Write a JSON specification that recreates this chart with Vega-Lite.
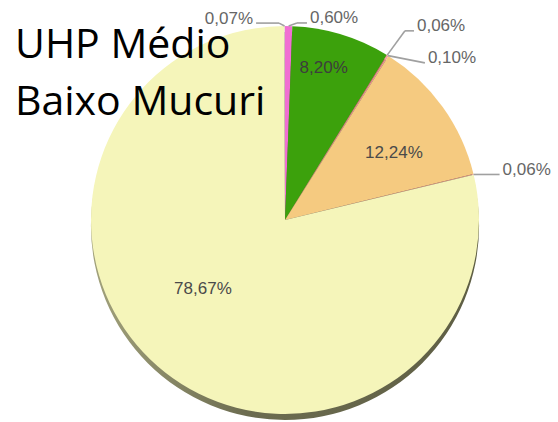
{
  "$schema": "https://vega.github.io/schema/vega-lite/v6.json",
  "width": 546,
  "height": 404,
  "autosize": "none",
  "padding": {"left": 12, "top": 18, "right": 0, "bottom": 0},
  "background": "white",
  "config": {"view": {"stroke": null}},
  "title": {
    "text": ["UHP Médio", "Baixo Mucuri"],
    "orient": "top",
    "anchor": "start",
    "frame": "group",
    "offset": 0,
    "dx": 3,
    "dy": 147,
    "baseline": "alphabetic",
    "font": "Open Sans",
    "fontSize": 41,
    "fontWeight": "normal",
    "lineHeight": 57,
    "color": "#000000"
  },
  "data": {
    "values": [
      {"i": 1, "k": "A", "value": 0.60, "label": "0,60%"},
      {"i": 2, "k": "B", "value": 8.20, "label": "8,20%"},
      {"i": 3, "k": "C", "value": 0.06, "label": "0,06%"},
      {"i": 4, "k": "D", "value": 0.10, "label": "0,10%"},
      {"i": 5, "k": "E", "value": 12.24, "label": "12,24%"},
      {"i": 6, "k": "F", "value": 0.06, "label": "0,06%"},
      {"i": 7, "k": "G", "value": 78.67, "label": "78,67%"},
      {"i": 8, "k": "H", "value": 0.07, "label": "0,07%"}
    ]
  },
  "transform": [
    {"window": [{"op": "sum", "field": "value", "as": "e"}], "sort": [{"field": "i", "order": "ascending"}], "frame": [null, 0]},
    {"calculate": "datum.e - datum.value", "as": "s"},
    {"calculate": "(datum.s + datum.e) / 2", "as": "m"}
  ],
  "layer": [
    {
      "transform": [{"aggregate": [{"op": "sum", "field": "value", "as": "tot"}]}],
      "mark": {
        "type": "arc",
        "radius": 194,
        "yOffset": 6,
        "color": {
          "gradient": "linear", "x1": 0, "y1": 0, "x2": 1, "y2": 0,
          "stops": [
            {"offset": 0, "color": "#a2a27c"},
            {"offset": 0.4, "color": "#6c6c50"},
            {"offset": 1, "color": "#5e5e44"}
          ]
        }
      },
      "encoding": {
        "theta": {"field": "tot", "type": "quantitative", "scale": {"domain": [0, 100]}}
      }
    },
    {
      "mark": {"type": "arc", "radius": 194},
      "encoding": {
        "theta": {"field": "s", "type": "quantitative", "scale": {"domain": [0, 100]}},
        "theta2": {"field": "e"},
        "color": {
          "field": "k", "type": "nominal", "legend": null,
          "scale": {
            "domain": ["A", "B", "C", "D", "E", "F", "G", "H"],
            "range": ["#f06fd2", "#3ca10c", "#e87070", "#f09a9a", "#f5ca80", "#e8928a", "#f5f5ba", "#e8d0d0"]
          }
        }
      }
    },
    {
      "transform": [
        {"filter": "datum.value < 1"},
        {"calculate": "datum.m / 100 * 2 * PI", "as": "a"},
        {"calculate": "datum.k == 'H' ? -1.6 : datum.k == 'A' ? 2.4 : datum.k == 'C' ? 0.6 : datum.k == 'D' ? 9.6 : 0", "as": "da"},
        {"calculate": "datum.k == 'H' ? 3 : datum.k == 'A' ? 3.4 : datum.k == 'C' ? 30 : datum.k == 'D' ? 16.4 : 0", "as": "ext"},
        {"calculate": "datum.k == 'H' ? 23 : datum.k == 'A' ? 10 : datum.k == 'C' ? 9 : datum.k == 'D' ? 0 : 26", "as": "len"},
        {"calculate": "datum.k == 'H' ? -1 : 1", "as": "side"},
        {"calculate": "datum.a + datum.da * PI / 180", "as": "b"},
        {"calculate": "194 * sin(datum.a)", "as": "x0"},
        {"calculate": "194 * cos(datum.a)", "as": "y0"},
        {"calculate": "(194 + datum.ext) * sin(datum.b)", "as": "x1"},
        {"calculate": "(194 + datum.ext) * cos(datum.b)", "as": "y1"},
        {"calculate": "datum.x1 + datum.side * datum.len", "as": "x2"},
        {"calculate": "datum.x2 + datum.side * 3", "as": "lx"},
        {"calculate": "datum.y1 + 4.5", "as": "ly"}
      ],
      "layer": [
        {
          "mark": {"type": "rule", "color": "#a0a0a0", "strokeWidth": 1.6},
          "encoding": {
            "x": {"field": "x0", "type": "quantitative", "scale": {"domain": [-273, 273], "nice": false, "zero": false}, "axis": null},
            "y": {"field": "y0", "type": "quantitative", "scale": {"domain": [-202, 202], "nice": false, "zero": false}, "axis": null},
            "x2": {"field": "x1"},
            "y2": {"field": "y1"}
          }
        },
        {
          "mark": {"type": "rule", "color": "#a0a0a0", "strokeWidth": 1.6},
          "encoding": {
            "x": {"field": "x1", "type": "quantitative"},
            "y": {"field": "y1", "type": "quantitative"},
            "x2": {"field": "x2"},
            "y2": {"field": "y1"}
          }
        },
        {
          "transform": [{"filter": "datum.side > 0"}],
          "mark": {"type": "text", "align": "left", "baseline": "middle", "font": "Liberation Sans", "fontSize": 17, "color": "#666666"},
          "encoding": {
            "x": {"field": "lx", "type": "quantitative"},
            "y": {"field": "ly", "type": "quantitative"},
            "text": {"field": "label"}
          }
        },
        {
          "transform": [{"filter": "datum.side < 0"}],
          "mark": {"type": "text", "align": "right", "baseline": "middle", "font": "Liberation Sans", "fontSize": 17, "color": "#666666"},
          "encoding": {
            "x": {"field": "lx", "type": "quantitative"},
            "y": {"field": "ly", "type": "quantitative"},
            "text": {"field": "label"}
          }
        }
      ]
    },
    {
      "transform": [{"filter": "datum.k == 'B'"}],
      "mark": {"type": "text", "radius": 157, "dx": -7, "dy": -2, "align": "center", "baseline": "middle", "font": "Liberation Sans", "fontSize": 17, "color": "#3d3d3d"},
      "encoding": {
        "theta": {"field": "m", "type": "quantitative"},
        "text": {"field": "label"}
      }
    },
    {
      "transform": [{"filter": "datum.k == 'E'"}],
      "mark": {"type": "text", "radius": 128, "dx": 5, "dy": 8, "align": "center", "baseline": "middle", "font": "Liberation Sans", "fontSize": 17, "color": "#4a4a4a"},
      "encoding": {
        "theta": {"field": "m", "type": "quantitative"},
        "text": {"field": "label"}
      }
    },
    {
      "transform": [{"filter": "datum.k == 'G'"}],
      "mark": {"type": "text", "radius": 107, "dx": -16, "dy": -15, "align": "center", "baseline": "middle", "font": "Liberation Sans", "fontSize": 17, "color": "#4a4a4a"},
      "encoding": {
        "theta": {"field": "m", "type": "quantitative"},
        "text": {"field": "label"}
      }
    }
  ]
}
